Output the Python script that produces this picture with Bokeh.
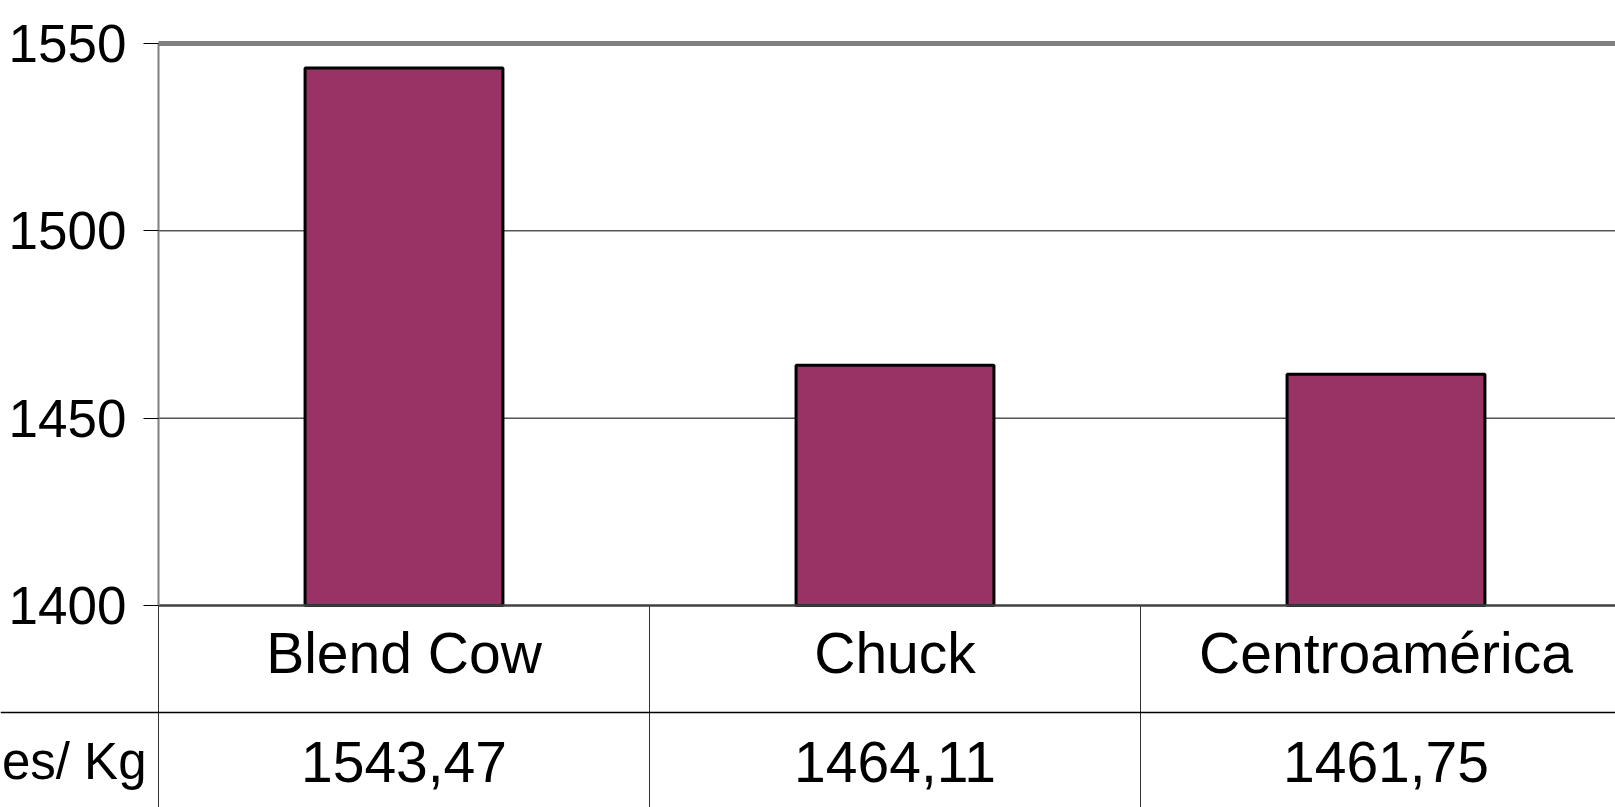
from bokeh.plotting import figure
from bokeh.models import Range1d, FixedTicker, ColumnDataSource
from bokeh.core.properties import value
from bokeh.embed import file_html
from bokeh.resources import INLINE

# ---- data ----
categories = ["Blend Cow", "Chuck", "Centroamérica"]
prices = [1543.47, 1464.11, 1461.75]
y_ticks = [1400, 1450, 1500, 1550]
row_label = "es/ Kg"

# ---- style / layout ----
FONT = "Liberation Sans"
BAR = "#993366"
W, H = 1615, 807
AXIS_X = 158                    # px position of the value axis
AXIS_Y0 = 605                   # px position of the category axis (value 1400)
AXIS_Y1 = 43                    # px position of value 1550
CAT_PX = 491                    # width of one category column in px
PX_PER_UNIT = (AXIS_Y0 - AXIS_Y1) / (y_ticks[-1] - y_ticks[0])
X_START = -AXIS_X / CAT_PX
X_END = (W - AXIS_X) / CAT_PX
Y_BASE = y_ticks[0]
Y_TOP = y_ticks[-1] + AXIS_Y1 / PX_PER_UNIT
Y_START = Y_BASE - (H - AXIS_Y0) / PX_PER_UNIT


def below(px):
    """data y located px pixels below the category axis"""
    return Y_BASE - px / PX_PER_UNIT


xs = [i + 0.5 for i in range(len(categories))]
value_labels = [f"{v:.2f}".replace(".", ",") for v in prices]

p = figure(width=W, height=H, output_backend="svg", toolbar_location=None,
           x_range=Range1d(X_START, X_END), y_range=Range1d(Y_START, Y_TOP),
           x_axis_location=None, min_border=0)
p.outline_line_color = None
p.background_fill_color = "white"
p.border_fill_color = "white"
p.grid.visible = False

ax = p.yaxis[0]
ax.fixed_location = 0
ax.ticker = FixedTicker(ticks=y_ticks)
ax.bounds = (y_ticks[0], y_ticks[-1])
ax.major_tick_out = 15
ax.major_tick_in = 0
ax.minor_tick_out = 0
ax.minor_tick_in = 0
ax.major_tick_line_color = "black"
ax.axis_line_color = "#808080"
ax.axis_line_width = 2
ax.major_label_text_font = FONT
ax.major_label_text_font_size = "53px"
ax.major_label_text_color = "black"
ax.major_label_standoff = 17

# horizontal gridlines (inner ones black, top one is the grey plot-area border)
inner = y_ticks[1:-1]
p.segment(x0=[0] * len(inner), x1=[X_END] * len(inner), y0=inner, y1=inner,
          line_color="black", line_width=1)
p.segment(x0=[0], x1=[X_END], y0=[y_ticks[-1]], y1=[y_ticks[-1]],
          line_color="#808080", line_width=5)

# bars
src = ColumnDataSource(dict(x=xs, top=prices, cat=categories))
p.vbar(x="x", width=0.403, bottom=Y_BASE, top="top", source=src,
       fill_color=BAR, line_color="black", line_width=3)

# ---- data table under the chart ----
ncol = len(categories)
p.segment(x0=list(range(ncol)), x1=list(range(ncol)), y0=Y_BASE, y1=Y_START,
          line_color="#303030", line_width=1)
p.segment(x0=[0], x1=[X_END], y0=[Y_BASE], y1=[Y_BASE], line_color="#404040", line_width=2.5)
p.segment(x0=[X_START], x1=[X_END], y0=[below(107)], y1=[below(107)],
          line_color="black", line_width=1.5)

p.text(x=xs, y=below(47), text=categories, text_font=value(FONT), text_font_size="57px",
       text_align="center", text_baseline="middle", text_color="black")
p.text(x=xs, y=below(156), text=value_labels, text_font=value(FONT), text_font_size="57px",
       text_align="center", text_baseline="middle", text_color="black")
p.text(x=[-12 / CAT_PX], y=[below(156)], text=[row_label], text_font=value(FONT),
       text_font_size="51px", text_align="right", text_baseline="middle", text_color="black")

open("out.html", "w").write(file_html(p, INLINE))
